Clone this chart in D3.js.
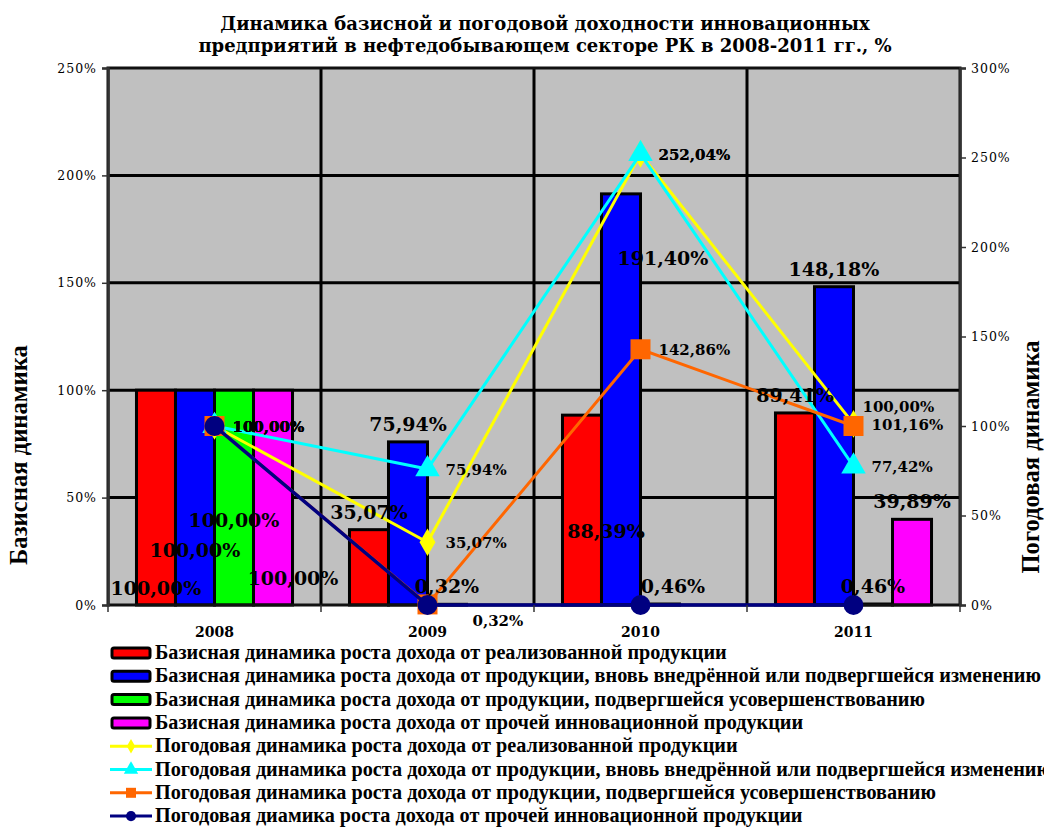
<!DOCTYPE html>
<html><head><meta charset="utf-8">
<script src="https://cdn.jsdelivr.net/npm/d3@7"></script>
<style>body{margin:0;background:#fff}svg{display:block}</style>
</head><body>
<script>
// ---- data ----
const years = ["2008", "2009", "2010", "2011"];
const baseRealized = [100, 35.07, 88.39, 89.41];
const baseNew = [100, 75.94, 191.40, 148.18];
const baseImproved = [100, 0.32, 0.46, 0.46];
const baseOther = [100, 0, 0, 39.89];
const yoyRealized = [100, 35.07, 252.04, 101.16];
const yoyNew = [100, 75.94, 252.04, 77.42];
const yoyImproved = [100, 0.32, 142.86, 100.00];
const yoyOther = [100, 0, 0, 0];
const leftTicks = [0, 50, 100, 150, 200, 250];
const rightTicks = [0, 50, 100, 150, 200, 250, 300];
const titleLines = ["Динамика базисной и погодовой доходности инновационных",
  "предприятий в нефтедобывающем секторе РК в 2008-2011 гг., %"];
const leftTitle = "Базисная динамика";
const rightTitle = "Погодовая динамика";
const barNames = [
  "Базисная динамика роста дохода от реализованной продукции",
  "Базисная динамика роста дохода от продукции, вновь внедрённой или подвергшейся изменению",
  "Базисная динамика роста дохода от продукции, подвергшейся усовершенствованию",
  "Базисная динамика роста дохода от прочей инновационной продукции"];
const lineNames = [
  "Погодовая динамика роста дохода от реализованной продукции",
  "Погодовая динамика роста дохода от продукции, вновь внедрённой или подвергшейся изменению",
  "Погодовая динамика роста дохода от продукции, подвергшейся усовершенствованию",
  "Погодовая диамика роста дохода от прочей инновационной продукции"];

// ---- styling / layout (not data) ----
const barColors = ["#FF0000", "#0000FF", "#00FF00", "#FF00FF"];
const lineColors = ["#FFFF00", "#00FFFF", "#FF6600", "#000080"];
const lineMarkers = [d3.symbolDiamond, d3.symbolTriangle, d3.symbolSquare, d3.symbolCircle];
const markerSizes = [220, 260, 400, 310];
const legendMarkerSizes = [60, 90, 100, 80];
// manual label nudges (dx, dy) copying the reference's hand-placed labels
const barLabelShift = [
  [[0, 216], [0, 0], [24, 134], [0, 0]],
  [[0, 178], [0, 0], [42, 82], [0, 0]],
  [[0, 148], [0, 0], [13, 0], [0, 0]],
  [[20, 206], [0, 0], [0, 0], [0, 0]]];
const lineLabelShift = [
  [[0, 0], [0, 0], [0, 0], [0, 0]],
  [[0, 0], [0, 0], [0, 0], [0, 0]],
  [[0, 0], [27, 16], [0, 0], [-9, -20]],
  [[0, 0], [0, 0], [0, 0], [0, 0]]];

const W = 1044, H = 827;
const plot = {l: 108, r: 960, t: 68, b: 605};
const barData = [baseRealized, baseNew, baseImproved, baseOther];
const lineData = [yoyRealized, yoyNew, yoyImproved, yoyOther];
const fmt = v => d3.format(".2f")(v).replace(".", ",") + "%";
const serif = "'DejaVu Serif', serif";
const tserif = "'Liberation Serif', 'Times New Roman', serif";

const svg = d3.select("body").append("svg").attr("width", W).attr("height", H);

const x = d3.scaleBand().domain(years).range([plot.l, plot.r]).padding(0);
const xs = d3.scaleBand().domain(d3.range(4)).range([0, x.bandwidth()]).paddingInner(0).paddingOuter(0.73);
const yL = d3.scaleLinear().domain([0, 250]).range([plot.b, plot.t]);
const yR = d3.scaleLinear().domain([0, 300]).range([plot.b, plot.t]);

// background
svg.append("rect").attr("x", plot.l).attr("y", plot.t).attr("width", plot.r - plot.l)
  .attr("height", plot.b - plot.t).attr("fill", "#C0C0C0");

// gridlines
svg.append("g").selectAll("line").data(leftTicks.filter(d => d > 0 && d < 250)).join("line")
  .attr("x1", plot.l).attr("x2", plot.r).attr("y1", d => yL(d)).attr("y2", d => yL(d))
  .attr("stroke", "#000").attr("stroke-width", 3);
svg.append("g").selectAll("line").data(years.slice(1)).join("line")
  .attr("x1", d => x(d)).attr("x2", d => x(d)).attr("y1", plot.t).attr("y2", plot.b)
  .attr("stroke", "#000").attr("stroke-width", 3);

// bars
barData.forEach((vals, si) => {
  svg.append("g").selectAll("rect").data(vals).join("rect")
    .attr("x", (d, i) => x(years[i]) + xs(si))
    .attr("width", xs.bandwidth())
    .attr("y", d => yL(d))
    .attr("height", d => plot.b - yL(d))
    .attr("fill", barColors[si]).attr("stroke", "#000").attr("stroke-width", 3);
});

// plot frame
svg.append("rect").attr("x", plot.l).attr("y", plot.t).attr("width", plot.r - plot.l)
  .attr("height", plot.b - plot.t).attr("fill", "none").attr("stroke", "#111").attr("stroke-width", 3);

// lines
lineData.forEach((vals, si) => {
  const line = d3.line().x((d, i) => x(years[i]) + x.bandwidth() / 2).y(d => yR(d));
  svg.append("path").datum(vals).attr("d", line).attr("fill", "none")
    .attr("stroke", lineColors[si]).attr("stroke-width", si === 3 ? 3.5 : 3);
  svg.append("g").selectAll("path").data(vals).join("path")
    .attr("transform", (d, i) => `translate(${x(years[i]) + x.bandwidth() / 2},${yR(d)})`)
    .attr("d", d3.symbol().type(lineMarkers[si]).size(markerSizes[si]))
    .attr("fill", lineColors[si]);
});

// bar labels
barData.forEach((vals, si) => {
  vals.forEach((v, i) => {
    if (!(v > 0)) return;
    const [dx, dy] = barLabelShift[si][i];
    svg.append("text")
      .attr("x", x(years[i]) + xs(si) + xs.bandwidth() / 2 + dx)
      .attr("y", yL(v) - 11 + dy)
      .attr("text-anchor", "middle").attr("font-family", serif).attr("font-weight", "bold")
      .attr("font-size", 19).attr("fill", "#000").text(fmt(v));
  });
});

// line labels
lineData.forEach((vals, si) => {
  vals.forEach((v, i) => {
    if (!(v > 0)) return;
    const [dx, dy] = lineLabelShift[si][i];
    svg.append("text")
      .attr("x", x(years[i]) + x.bandwidth() / 2 + 18 + dx)
      .attr("y", yR(v) + 6 + dy)
      .attr("font-family", serif).attr("font-weight", "bold")
      .attr("font-size", 15).attr("fill", "#000").text(fmt(v));
  });
});

// axes
const axL = svg.append("g").attr("transform", `translate(${plot.l},0)`)
  .call(d3.axisLeft(yL).tickValues(leftTicks).tickSize(6).tickPadding(5).tickFormat(d => d + "%"));
const axR = svg.append("g").attr("transform", `translate(${plot.r},0)`)
  .call(d3.axisRight(yR).tickValues(rightTicks).tickSize(6).tickPadding(5).tickFormat(d => d + "%"));
[axL, axR].forEach(a => {
  a.select(".domain").attr("stroke", "#333").attr("stroke-width", 2.5);
  a.selectAll(".tick line").attr("stroke", "#333").attr("stroke-width", 1.5);
  a.selectAll(".tick text").attr("font-family", serif).attr("font-size", 12.5)
    .attr("letter-spacing", 1).attr("fill", "#000");
});

// x axis
svg.append("g").selectAll("line").data(years.concat(["end"])).join("line")
  .attr("x1", d => d === "end" ? plot.r : x(d)).attr("x2", d => d === "end" ? plot.r : x(d))
  .attr("y1", plot.b).attr("y2", plot.b + 7).attr("stroke", "#333").attr("stroke-width", 1.5);
svg.append("g").selectAll("text").data(years).join("text")
  .attr("x", d => x(d) + x.bandwidth() / 2).attr("y", 637)
  .attr("text-anchor", "middle").attr("font-family", serif).attr("font-weight", "bold")
  .attr("font-size", 14).text(d => d);

// helper to fit text width
function fitSize(family, weight, str, target) {
  const t = svg.append("text").attr("font-family", family).attr("font-weight", weight)
    .attr("font-size", 100).text(str);
  const w = t.node().getComputedTextLength();
  t.remove();
  return 100 * target / w;
}

// title
const ts = fitSize(serif, "bold", titleLines[0], 650);
titleLines.forEach((s, i) => {
  svg.append("text").attr("x", 545).attr("y", 30 + i * 22).attr("text-anchor", "middle")
    .attr("font-family", serif).attr("font-weight", "bold").attr("font-size", ts).text(s);
});

// axis titles
const ats = fitSize(tserif, "bold", leftTitle, 220);
svg.append("text").attr("transform", "translate(27,455) rotate(-90)").attr("text-anchor", "middle")
  .attr("font-family", tserif).attr("font-weight", "bold").attr("font-size", ats).text(leftTitle);
svg.append("text").attr("transform", "translate(1039,457) rotate(-90)").attr("text-anchor", "middle")
  .attr("font-family", tserif).attr("font-weight", "bold").attr("font-size", ats).text(rightTitle);

// legend
const ls = fitSize(tserif, "bold", barNames[0], 572);
const rowY = i => 653 + i * 23.3;
const lg = svg.append("g");
barNames.forEach((n, i) => {
  lg.append("rect").attr("x", 112).attr("y", rowY(i) - 5).attr("width", 38).attr("height", 10)
    .attr("rx", 2).attr("fill", barColors[i]).attr("stroke", "#000").attr("stroke-width", 3);
  lg.append("text").attr("x", 155).attr("y", rowY(i) + 6).attr("font-family", tserif)
    .attr("font-weight", "bold").attr("font-size", ls).text(n);
});
lineNames.forEach((n, j) => {
  const i = j + 4;
  lg.append("line").attr("x1", 110).attr("x2", 152).attr("y1", rowY(i)).attr("y2", rowY(i))
    .attr("stroke", lineColors[j]).attr("stroke-width", 3);
  lg.append("path").attr("transform", `translate(131,${rowY(i)})`)
    .attr("d", d3.symbol().type(lineMarkers[j]).size(legendMarkerSizes[j])).attr("fill", lineColors[j]);
  lg.append("text").attr("x", 155).attr("y", rowY(i) + 6).attr("font-family", tserif)
    .attr("font-weight", "bold").attr("font-size", ls).text(n);
});
</script>
</body></html>
